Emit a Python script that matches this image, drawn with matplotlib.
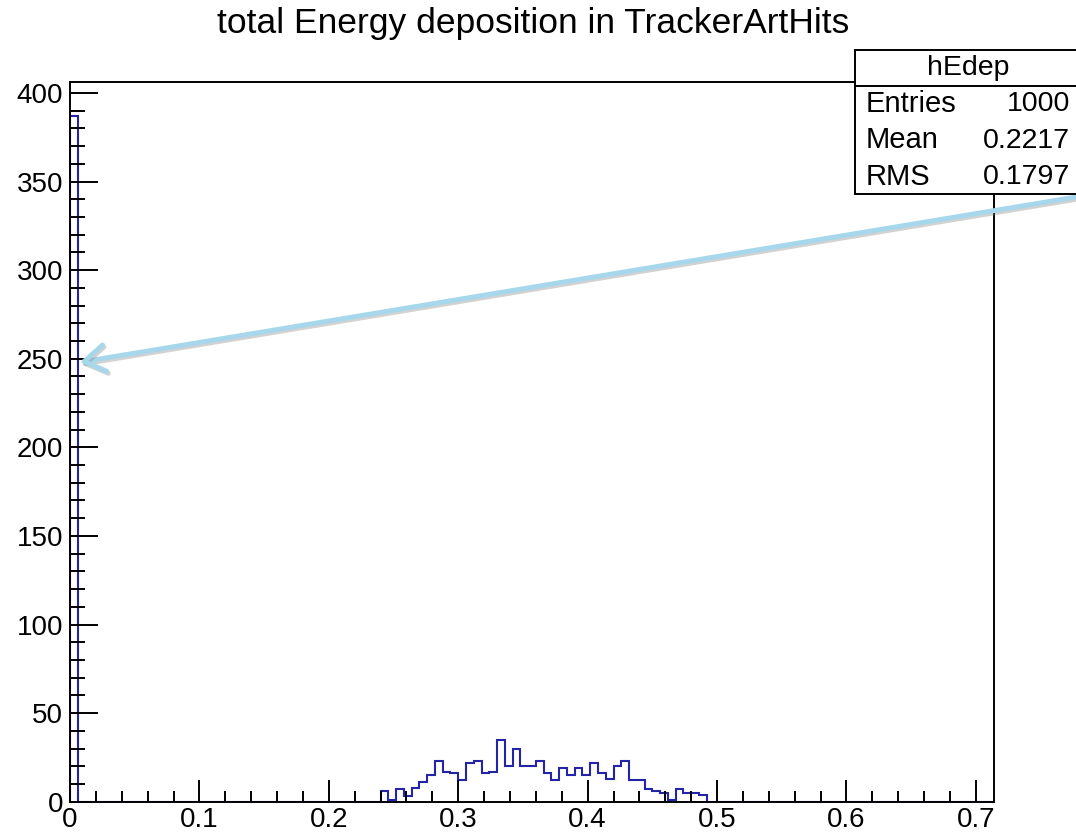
import numpy as np
import matplotlib
matplotlib.use("Agg")
import matplotlib.pyplot as plt
import matplotlib.patheffects as pe
from matplotlib.patches import Rectangle
from matplotlib.ticker import MultipleLocator, FuncFormatter

plt.rcParams["font.family"] = ["Liberation Sans", "DejaVu Sans"]

# histogram hEdep: bin width 0.006, 119 bins from 0
bin_width = 0.006
n_bins = 119
first_bin_count = 387
spread_first_bin = 40  # bin starting at 0.240
spread_counts = [6, 1, 7, 3, 8, 11, 15, 23, 17, 16,
                 12, 22, 23, 16, 17, 35, 20, 30, 20, 20,
                 23, 16, 12, 19, 15, 19, 15, 22, 16, 13,
                 20, 23, 12, 12, 7, 6, 5, 1, 7, 5,
                 5, 4]

title = "total Energy deposition in TrackerArtHits"
hist_name = "hEdep"
stat_names = ["Entries", "Mean", "RMS"]
stat_values = ["1000", "0.2217", "0.1797"]

counts = np.zeros(n_bins)
counts[0] = first_bin_count
counts[spread_first_bin:spread_first_bin + len(spread_counts)] = spread_counts
edges = np.arange(n_bins + 1) * bin_width

W, H = 1076, 836
fig = plt.figure(figsize=(W / 100, H / 100), dpi=100)
ax = fig.add_axes([70 / W, 1 - 801.7 / H, (994 - 70) / W, (801.7 - 81.7) / H])

ax.stairs(counts, edges, baseline=0, color="#2424a6", lw=1.5)

ax.set_xlim(0, edges[-1])
ax.set_ylim(0, 1.05 * counts.max())

for s in ax.spines.values():
    s.set_linewidth(1.4)

fmt = FuncFormatter(lambda v, p: "%g" % round(v, 6))
ax.xaxis.set_major_locator(MultipleLocator(0.1))
ax.xaxis.set_minor_locator(MultipleLocator(0.02))
ax.yaxis.set_major_locator(MultipleLocator(50))
ax.yaxis.set_minor_locator(MultipleLocator(10))
ax.xaxis.set_major_formatter(fmt)
ax.yaxis.set_major_formatter(fmt)

ax.tick_params(which="both", direction="in", top=False, right=False,
               width=1.4, labelsize=20, color="black")
ax.tick_params(axis="x", which="major", length=16, pad=3.5)
ax.tick_params(axis="x", which="minor", length=8)
ax.tick_params(axis="y", which="major", length=20, pad=5)
ax.tick_params(axis="y", which="minor", length=10.5)

fig.text(533 / W, 1 - 23 / H, title, ha="center", va="center", fontsize=25.5)

# stats box
box_l, box_r, box_t, box_b, hdr = 855, 1082, 50, 194, 85.7
fig.patches.append(Rectangle((box_l / W, 1 - box_b / H), (box_r - box_l) / W,
                             (box_b - box_t) / H, transform=fig.transFigure,
                             facecolor="white", edgecolor="black", lw=1.4,
                             zorder=2))
fig.lines.append(plt.Line2D([box_l / W, box_r / W], [1 - hdr / H, 1 - hdr / H],
                            transform=fig.transFigure, color="black", lw=1.4,
                            zorder=2.5))
fig.text((box_l + box_r) / 2 / W, 1 - 68 / H, hist_name, ha="center",
         va="center", fontsize=20.5, zorder=3)
for i, (n, v) in enumerate(zip(stat_names, stat_values)):
    y = 1 - (104 + 36.5 * i) / H
    fig.text(866 / W, y, n, ha="left", va="center", fontsize=21, zorder=3)
    fig.text(1070 / W, y, v, ha="right", va="center", fontsize=20.5, zorder=3)

# arrow pointing at the first bin
ax.annotate("", xy=(0.0075, 248), xycoords="data",
            xytext=(1.0, 1 - 197 / H), textcoords="figure fraction",
            annotation_clip=False,
            arrowprops=dict(arrowstyle="->,head_length=1.25,head_width=0.8",
                            mutation_scale=12, color="#a6d7ea", lw=3.5,
                            shrinkA=0, shrinkB=0,
                            path_effects=[pe.SimpleLineShadow(offset=(1, -1.5),
                                                              shadow_color="gray",
                                                              alpha=0.35),
                                          pe.Normal()]),
            zorder=10)

fig.savefig("out.png", dpi=100)
